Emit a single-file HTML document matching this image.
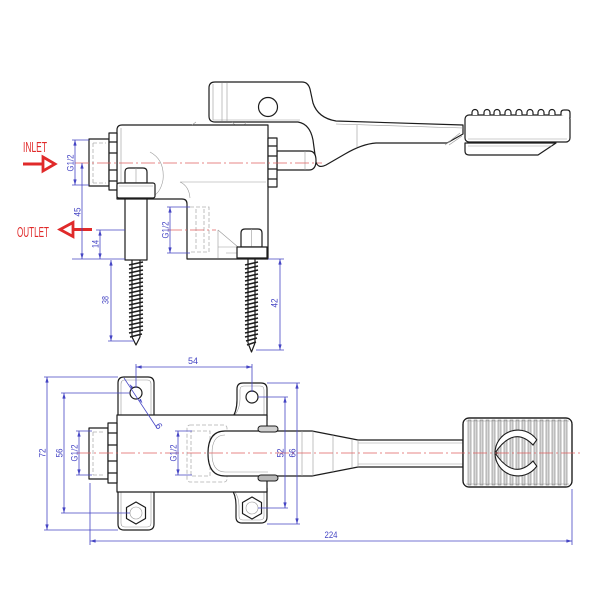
<!DOCTYPE html>
<html><head><meta charset="utf-8">
<style>
html,body{margin:0;padding:0;background:#fff;}
svg{display:block;}
.o{fill:none;stroke:#1c1c1c;stroke-width:1.2;stroke-linejoin:round;}
.of{fill:#fff;stroke:#1c1c1c;stroke-width:1.2;stroke-linejoin:round;}
.t{fill:none;stroke:#9a9a9a;stroke-width:0.6;}
.h{fill:none;stroke:#b0b0b0;stroke-width:0.8;stroke-dasharray:4 2;}
.d{fill:none;stroke:#4646c4;stroke-width:0.8;}
.c{fill:none;stroke:#e06060;stroke-width:0.8;stroke-dasharray:14 3 2 3;}
.th{fill:none;stroke:#1c1c1c;stroke-width:1.6;}
.dt{font-family:"Liberation Sans Narrow","Liberation Sans",sans-serif;font-size:9.5px;fill:#4646c4;}
.rt{font-family:"Liberation Sans Narrow","Liberation Sans",sans-serif;font-size:15px;fill:#e02a2a;}
</style></head>
<body>
<svg width="600" height="600" viewBox="0 0 600 600" xmlns="http://www.w3.org/2000/svg">
<defs>
<marker id="a" viewBox="0 0 10 6" refX="10" refY="3" markerWidth="6" markerHeight="3.4" orient="auto-start-reverse" markerUnits="userSpaceOnUse">
<path d="M0 0 L10 3 L0 6 Z" fill="#4646c4"/>
</marker>
</defs>
<rect width="600" height="600" fill="#fff"/>

<!-- ================= TOP VIEW ================= -->
<path class="of" d="M209 116 V88 Q209 82 215 82 H302 Q308 82 310 89 L313 103 Q318 118 336 121 L463 125 L463 134 L447 143 H376 Q362 144 345 154 L326 165 Q318 169 316 162 L313 140 Q310 124 298 122 H215 Q209 122 209 116 Z"/>
<path class="t" d="M213 84 V120 M222 83 V121 M227 83 V121 M336 124 L463 128 M357 125 V147 M213 120 H300 M232 122 L236 126 H244 L246 122"/>
<circle cx="268" cy="107" r="9.5" class="o"/>

<path class="of" d="M465 143 V151 Q465 155 469 155 H538 L556 143 Z"/>
<path class="t" d="M468 146 H552 M445 145 L460 133 M449 145 L462 136"/>
<rect x="465" y="115" width="105" height="27" rx="4" class="of"/>
<path class="t" d="M468 139 H567"/>
<path class="of" d="M472 115 V112.5 A3 3 0 0 1 478 112.5 V115 M484 115 V112.5 A3 3 0 0 1 490 112.5 V115 M494 115 V112.5 A3 3 0 0 1 500 112.5 V115 M505 115 V112.5 A3 3 0 0 1 511 112.5 V115 M516 115 V112.5 A3 3 0 0 1 522 112.5 V115 M527 115 V112.5 A3 3 0 0 1 533 112.5 V115 M538 115 V112.5 A3 3 0 0 1 544 112.5 V115 M549 115 V112.5 A3 3 0 0 1 555 112.5 V115 M561 115 V113 Q561 110 564 110 H567 Q570 110 570 113 V118"/>

<path class="of" d="M117 130 Q117 125 122 125 H268 V259 H187 V204 Q187 199 182 199 H117 Z"/>
<path class="t" d="M121 128 V197 M180 182 H266 M180 182 Q189 186 190 198 M150 152 Q165 160 163 180 Q160 195 150 197 M218 230 L238 247 M218 230 V258 M218 247 H267 M226 253 H267 M192 125 L196 122"/>
<path class="h" d="M190 207 H209 V252 H190 M196 209 V250 M204 209 V250"/>

<rect x="89" y="139" width="20" height="47" class="of"/>
<path class="h" d="M93 143 V183 M93 143 H106 M93 183 H106"/>
<rect x="109" y="133" width="8" height="57" class="of"/>
<path class="o" d="M109 142 H117 M109 153 H117 M109 170 H117 M109 181 H117"/>

<path class="of" d="M277 151 H309 Q316 151 316 160.5 Q316 170 309 170 H277 Z"/>
<path class="t" d="M305 151 V170"/>
<rect x="268" y="138" width="9" height="49" class="of"/>
<path class="o" d="M268 146 H277 M268 156 H277 M268 169 H277 M268 179 H277"/>

<path class="of" d="M125 183 V172 Q125 168 129 168 H143 Q147 168 147 172 V183 Z"/>
<path class="t" d="M136 168 V183"/>
<rect x="117" y="183" width="38" height="15" rx="2" class="of"/>
<path class="t" d="M119 186 H153"/>
<rect x="125" y="199" width="22" height="61" class="of"/>

<path class="of" d="M241 247 V233 Q241 229 245 229 H258 Q262 229 262 233 V247 Z"/>
<path class="t" d="M251.5 229 V247"/>
<rect x="237" y="247" width="30" height="11" class="of"/>

<path class="o" d="M132 260 V337 M140 260 V337 M132 337 L136 345 L140 337"/>
<path class="th" d="M129 265 L143 262 M129 269 L143 266 M129 273 L143 270 M129 277 L143 274 M129 281 L143 278 M129 285 L143 282 M129 289 L143 286 M129 293 L143 290 M129 297 L143 294 M129 301 L143 298 M129 305 L143 302 M129 309 L143 306 M129 313 L143 310 M129 317 L143 314 M129 321 L143 318 M129 325 L143 322 M129 329 L143 326 M129 333 L143 330 M130 337 L142 334"/>
<path class="o" d="M248 259 V343 M255 259 V343 M248 343 L251.5 352 L255 343"/>
<path class="th" d="M245 265 L258 262 M245 269 L258 266 M245 273 L258 270 M245 277 L258 274 M245 281 L258 278 M245 285 L258 282 M245 289 L258 286 M245 293 L258 290 M245 297 L258 294 M245 301 L258 298 M245 305 L258 302 M245 309 L258 306 M245 313 L258 310 M245 317 L258 314 M245 321 L258 318 M245 325 L258 322 M245 329 L258 326 M245 333 L258 330 M245 337 L258 334 M246 341 L257 338 M247 345 L256 342"/>

<line x1="75" y1="163" x2="322" y2="163" class="c"/>
<line x1="168" y1="230" x2="216" y2="230" class="c"/>

<text x="23" y="152" class="rt" textLength="24" lengthAdjust="spacingAndGlyphs">INLET</text>
<line x1="23" y1="164" x2="43" y2="164" stroke="#e02a2a" stroke-width="3"/>
<polygon points="43,157 55,164 43,171" fill="none" stroke="#e02a2a" stroke-width="2.8" stroke-linejoin="miter"/>
<text x="17" y="237" class="rt" textLength="32" lengthAdjust="spacingAndGlyphs">OUTLET</text>
<line x1="73" y1="229.5" x2="92" y2="229.5" stroke="#e02a2a" stroke-width="3"/>
<polygon points="73,222.5 60,229.5 73,236.5" fill="none" stroke="#e02a2a" stroke-width="2.8" stroke-linejoin="miter"/>

<path class="d" d="M72 140 H89 M72 185 H89 M72 259 H125 M96 230 H125 M167 207 H190 M167 253 H190 M108 341 H134 M268 259 H284 M256 350 H284"/>
<line x1="75" y1="140" x2="75" y2="185" class="d" marker-start="url(#a)" marker-end="url(#a)"/>
<line x1="82" y1="163" x2="82" y2="259" class="d" marker-start="url(#a)" marker-end="url(#a)"/>
<line x1="100" y1="230" x2="100" y2="259" class="d" marker-start="url(#a)" marker-end="url(#a)"/>
<line x1="170" y1="207" x2="170" y2="253" class="d" marker-start="url(#a)" marker-end="url(#a)"/>
<line x1="111" y1="260" x2="111" y2="341" class="d" marker-start="url(#a)" marker-end="url(#a)"/>
<line x1="280" y1="259" x2="280" y2="350" class="d" marker-start="url(#a)" marker-end="url(#a)"/>
<text class="dt" text-anchor="middle" transform="translate(70 163) rotate(-90)" dy="3.3" textLength="17" lengthAdjust="spacingAndGlyphs">G1/2</text>
<text class="dt" text-anchor="middle" transform="translate(77 212) rotate(-90)" dy="3.3" textLength="9" lengthAdjust="spacingAndGlyphs">45</text>
<text class="dt" text-anchor="middle" transform="translate(95 244) rotate(-90)" dy="3.3" textLength="8" lengthAdjust="spacingAndGlyphs">14</text>
<text class="dt" text-anchor="middle" transform="translate(165 230) rotate(-90)" dy="3.3" textLength="17" lengthAdjust="spacingAndGlyphs">G1/2</text>
<text class="dt" text-anchor="middle" transform="translate(105 300) rotate(-90)" dy="3.3" textLength="8" lengthAdjust="spacingAndGlyphs">38</text>
<text class="dt" text-anchor="middle" transform="translate(274 303) rotate(-90)" dy="3.3" textLength="9" lengthAdjust="spacingAndGlyphs">42</text>

<!-- ================= BOTTOM VIEW ================= -->
<path class="of" d="M118 420 V383 Q118 377 124 377 H148 Q154 377 154 383 V420 Z"/>
<path class="t" d="M121 415 V384 Q121 380 125 380 H147 Q151 380 151 384 V415"/>
<path class="of" d="M118 488 V524 Q118 530 124 530 H148 Q154 530 154 524 V488 Z"/>
<path class="t" d="M121 492 V523 Q121 527 125 527 H147 Q151 527 151 523 V492"/>
<path class="of" d="M231 420 Q237 412 237 400 V389 Q237 383 243 383 H261 Q267 383 267 389 V420 Z"/>
<path class="t" d="M235 415 Q240 408 240 399 V390 Q240 386 244 386 H260 Q264 386 264 390 V415"/>
<path class="of" d="M231 488 Q236 495 236 505 V517 Q236 523 242 523 H261 Q267 523 267 517 V488 Z"/>
<path class="t" d="M235 492 Q239 498 239 506 V516 Q239 520 243 520 H260 Q264 520 264 516 V492"/>
<rect x="117" y="415" width="150" height="77" class="of"/>
<circle cx="136" cy="393" r="6" class="of"/>
<circle cx="252" cy="397" r="6" class="of"/>
<polygon class="of" points="136,502 145.5,507.5 145.5,518.5 136,524 126.5,518.5 126.5,507.5"/>
<circle cx="136" cy="513" r="6" class="t"/>
<polygon class="of" points="252,497 261.5,502.5 261.5,513.5 252,519 242.5,513.5 242.5,502.5"/>
<circle cx="252" cy="508" r="6" class="t"/>

<rect x="89" y="428" width="19" height="51" class="of"/>
<path class="h" d="M93 432 V475 M93 432 H105 M93 475 H105"/>
<rect x="108" y="423" width="9" height="60" class="of"/>
<path class="o" d="M108 433 H117 M108 445 H117 M108 461 H117 M108 473 H117"/>

<rect x="187" y="425" width="40" height="57" rx="3" class="h"/>
<rect x="191" y="431" width="19" height="45" class="h"/>

<path class="of" d="M463 440 H358 L312 431 H225 Q208 431 208 453.5 Q208 476 225 476 H312 L358 467 H463 Z"/>
<path class="t" d="M225 435 Q212 435 212 453.5 Q212 472 225 472 H268 M297 431 V476 M302 431 V476 M313 431 V476 M333 435 V472 M352 439 V468 M358 440 V467 M358 443 H463 M358 464 H463"/>
<rect x="258" y="426" width="20" height="6" rx="3" fill="#d0d0d0" stroke="#1c1c1c" stroke-width="1"/>
<rect x="258" y="475" width="20" height="6" rx="3" fill="#b8b8b8" stroke="#1c1c1c" stroke-width="1"/>

<rect x="463" y="418" width="109" height="69" rx="6" class="of"/>
<g fill="#dadada" stroke="#666" stroke-width="0.5">
<rect x="468" y="420" width="3" height="65"/>
<rect x="474" y="420" width="3" height="65"/>
<rect x="480" y="420" width="3" height="65"/>
<rect x="486" y="420" width="3" height="65"/>
<rect x="492" y="420" width="3" height="65"/>
<rect x="498" y="420" width="3" height="65"/>
<rect x="504" y="420" width="3" height="65"/>
<rect x="510" y="420" width="3" height="65"/>
<rect x="516" y="420" width="3" height="65"/>
<rect x="522" y="420" width="3" height="65"/>
<rect x="528" y="420" width="3" height="65"/>
<rect x="534" y="420" width="3" height="65"/>
<rect x="540" y="420" width="3" height="65"/>
<rect x="546" y="420" width="3" height="65"/>
<rect x="552" y="420" width="3" height="65"/>
<rect x="558" y="420" width="3" height="65"/>
<rect x="564" y="420" width="3" height="65"/>
</g>
<path class="t" d="M466 421 H569 M466 484 H569"/>
<rect x="463" y="418" width="109" height="69" rx="6" class="o"/>
<path fill="#fff" stroke="#1c1c1c" stroke-width="1.1" d="M495 453 A23 23 0 0 1 536.8 439.8 L533 445 Q514 425 495 453 Z"/>
<path fill="#fff" stroke="#1c1c1c" stroke-width="1.1" d="M495 453 A23 23 0 0 0 536.8 466.2 L533 461 Q514 481 495 453 Z"/>
<circle cx="496" cy="453" r="1.5" fill="#333"/>

<line x1="77" y1="453" x2="582" y2="453" class="c"/>

<path class="d" d="M136 364 V388 M252 364 V392 M44 377 H118 M44 530 H118 M61 393 H130 M61 513 H130 M76 431 H92 M76 475 H92 M175 431 H192 M175 475 H192 M258 397 H288 M258 508 H288 M267 383 H300 M267 524 H300 M90 483 V545 M572 489 V545"/>
<line x1="136" y1="367" x2="252" y2="367" class="d" marker-start="url(#a)" marker-end="url(#a)"/>
<line x1="47" y1="377" x2="47" y2="530" class="d" marker-start="url(#a)" marker-end="url(#a)"/>
<line x1="64" y1="393" x2="64" y2="513" class="d" marker-start="url(#a)" marker-end="url(#a)"/>
<line x1="79" y1="431" x2="79" y2="475" class="d" marker-start="url(#a)" marker-end="url(#a)"/>
<line x1="178" y1="431" x2="178" y2="475" class="d" marker-start="url(#a)" marker-end="url(#a)"/>
<line x1="285" y1="397" x2="285" y2="508" class="d" marker-start="url(#a)" marker-end="url(#a)"/>
<line x1="297" y1="383" x2="297" y2="524" class="d" marker-start="url(#a)" marker-end="url(#a)"/>
<line x1="90" y1="541" x2="572" y2="541" class="d" marker-start="url(#a)" marker-end="url(#a)"/>
<line x1="124" y1="378" x2="157" y2="428" class="d"/>
<polygon points="129.5,384 133,387 131.2,388.2" fill="#4646c4"/>
<polygon points="142.5,403.5 139,400 140.8,398.8" fill="#4646c4"/>

<text class="dt" x="193" y="364" text-anchor="middle" textLength="10" lengthAdjust="spacingAndGlyphs">54</text>
<text class="dt" x="331" y="538" text-anchor="middle" textLength="13" lengthAdjust="spacingAndGlyphs">224</text>
<text class="dt" text-anchor="middle" transform="translate(42 453) rotate(-90)" dy="3.3" textLength="9" lengthAdjust="spacingAndGlyphs">72</text>
<text class="dt" text-anchor="middle" transform="translate(59 453) rotate(-90)" dy="3.3" textLength="9" lengthAdjust="spacingAndGlyphs">56</text>
<text class="dt" text-anchor="middle" transform="translate(74 453) rotate(-90)" dy="3.3" textLength="17" lengthAdjust="spacingAndGlyphs">G1/2</text>
<text class="dt" text-anchor="middle" transform="translate(173 453) rotate(-90)" dy="3.3" textLength="17" lengthAdjust="spacingAndGlyphs">G1/2</text>
<text class="dt" text-anchor="middle" transform="translate(280 453) rotate(-90)" dy="3.3" textLength="9" lengthAdjust="spacingAndGlyphs">52</text>
<text class="dt" text-anchor="middle" transform="translate(292 453) rotate(-90)" dy="3.3" textLength="9" lengthAdjust="spacingAndGlyphs">66</text>
<text class="dt" text-anchor="middle" transform="translate(159 426) rotate(56)" dy="3.3">6</text>
</svg>
</body></html>
